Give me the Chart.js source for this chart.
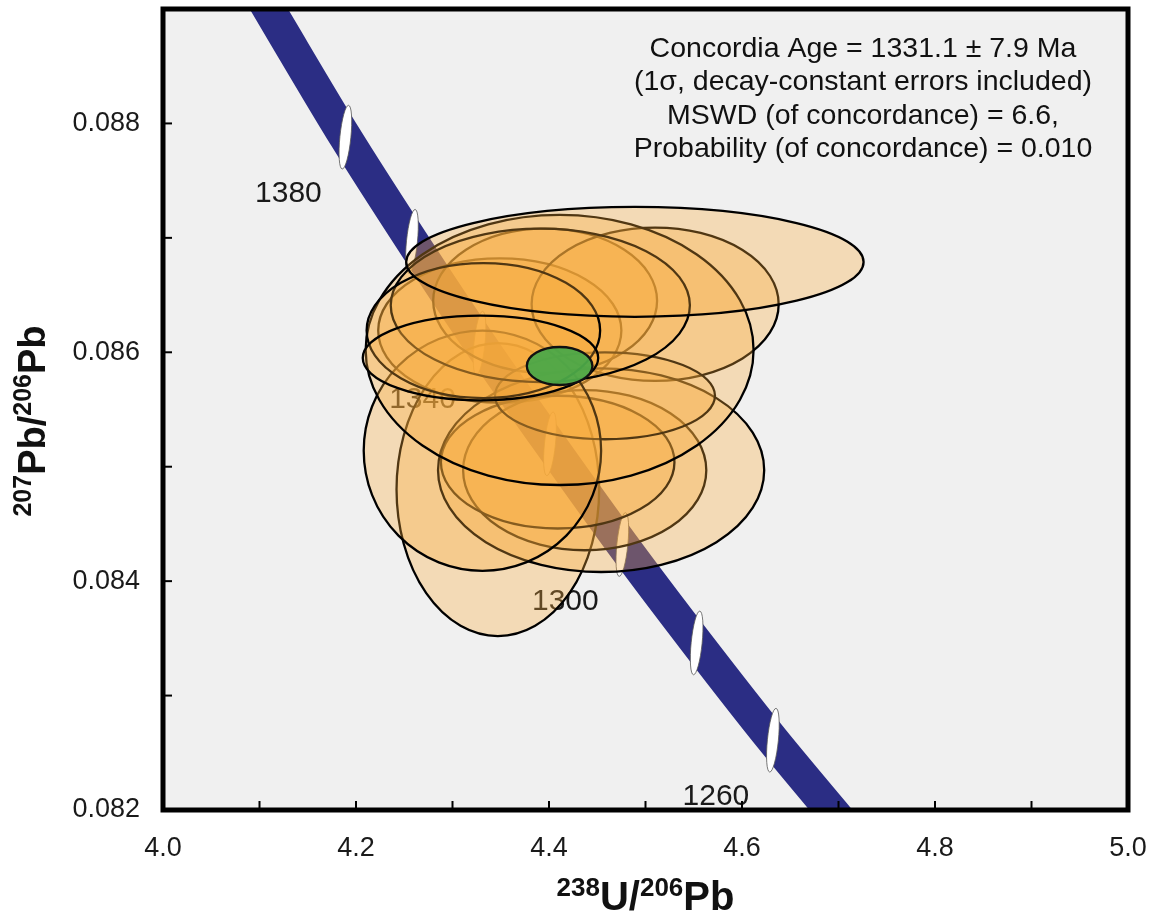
<!DOCTYPE html>
<html>
<head>
<meta charset="utf-8">
<script src="https://cdn.jsdelivr.net/npm/chart.js@4.4.1/dist/chart.umd.min.js"></script>
<style>
  html, body { margin: 0; background: #fff; }
  canvas { display: block; }
</style>
</head>
<body>
<canvas id="chart" width="1160" height="918"></canvas>
<script>
// concordia curve (age in Ma)
const concAges = [1240, 1260, 1280, 1300, 1320, 1340, 1360, 1380, 1400, 1420];
const concX = [4.715, 4.632, 4.553, 4.476, 4.401, 4.328, 4.258, 4.189, 4.123, 4.058];
const concY = [0.08177, 0.08261, 0.08346, 0.08432, 0.08520, 0.08608, 0.08697, 0.08788, 0.08881, 0.08974];
const markerAges = [1260, 1280, 1300, 1320, 1340, 1360, 1380];
const labelAges = [1260, 1300, 1340, 1380];

// analysis error ellipses: centre and half axes (drawn in this order)
const ellX  = [4.347, 4.349, 4.396, 4.510, 4.437, 4.409, 4.454, 4.458, 4.331, 4.411, 4.391, 4.332, 4.489, 4.329];
const ellY  = [0.08480, 0.08619, 0.08645, 0.08642, 0.08497, 0.08504, 0.08497, 0.08562, 0.08514, 0.08602, 0.08641, 0.08619, 0.08679, 0.08595];
const ellSx = [0.105, 0.126, 0.116, 0.128, 0.126, 0.121, 0.169, 0.114, 0.123, 0.201, 0.155, 0.121, 0.237, 0.122];
const ellSy = [0.00128, 0.00063, 0.00063, 0.00067, 0.00070, 0.00058, 0.00089, 0.00038, 0.00105, 0.00118, 0.00067, 0.00059, 0.00048, 0.00037];

// concordia age ellipse
const ageX = 4.411, ageY = 0.08588, ageSx = 0.034, ageSy = 0.000166;

// axis labels
const xLabels = [4.0, 4.2, 4.4, 4.6, 4.8, 5.0];
const yLabels = [0.082, 0.084, 0.086, 0.088];

const infoLines = [
  "Concordia Age = 1331.1 \u00b1 7.9 Ma",
  "(1\u03c3, decay-constant errors included)",
  "MSWD (of concordance) = 6.6,",
  "Probability (of concordance) = 0.010"
];

const FONT = "'Liberation Sans', Arial, sans-serif";

function ellipse(ctx, xs, ys, cx, cy, sx, sy) {
  const px = xs.getPixelForValue(cx), py = ys.getPixelForValue(cy);
  const rx = Math.abs(xs.getPixelForValue(cx + sx) - px);
  const ry = Math.abs(ys.getPixelForValue(cy + sy) - py);
  ctx.beginPath();
  ctx.ellipse(px, py, rx, ry, 0, 0, Math.PI * 2);
}

// text with superscript isotope numbers, centred on (0,0) baseline
function supText(ctx, parts, size, supSize) {
  let w = 0;
  parts.forEach(p => {
    ctx.font = "bold " + (p[1] ? supSize : size) + "px " + FONT;
    w += ctx.measureText(p[0]).width;
  });
  let x = -w / 2;
  ctx.textAlign = "left";
  ctx.textBaseline = "alphabetic";
  parts.forEach(p => {
    ctx.font = "bold " + (p[1] ? supSize : size) + "px " + FONT;
    ctx.fillText(p[0], x, p[1] ? -size * 0.36 : 0);
    x += ctx.measureText(p[0]).width;
  });
}

const concordiaPlugin = {
  id: "concordia",
  beforeDraw(chart) {
    const { ctx, chartArea: a } = chart;
    ctx.save();
    ctx.fillStyle = "#fff";
    ctx.fillRect(0, 0, chart.width, chart.height);
    ctx.fillStyle = "#f0f0f0";
    ctx.fillRect(a.left, a.top, a.right - a.left, a.bottom - a.top);
    ctx.restore();
  },
  afterDatasetsDraw(chart) {
    const { ctx, chartArea: a } = chart;
    const xs = chart.scales.x, ys = chart.scales.y;
    ctx.save();

    // age markers on the concordia band
    markerAges.forEach(age => {
      const i = concAges.indexOf(age);
      const px = xs.getPixelForValue(concX[i]), py = ys.getPixelForValue(concY[i]);
      ctx.beginPath();
      ctx.ellipse(px, py, 5.5, 32, 0.1, 0, Math.PI * 2);
      ctx.fillStyle = "#fff";
      ctx.fill();
      ctx.lineWidth = 0.8;
      ctx.strokeStyle = "#555";
      ctx.stroke();
    });

    // age labels
    ctx.font = "30px " + FONT;
    ctx.fillStyle = "#1a1a1a";
    ctx.textAlign = "center";
    ctx.textBaseline = "middle";
    labelAges.forEach(age => {
      const i = concAges.indexOf(age);
      const px = xs.getPixelForValue(concX[i]), py = ys.getPixelForValue(concY[i]);
      ctx.fillText(String(age), px - 57, py + 57);
    });

    // data ellipses
    for (let i = 0; i < ellX.length; i++) {
      ellipse(ctx, xs, ys, ellX[i], ellY[i], ellSx[i], ellSy[i]);
      ctx.fillStyle = "rgba(250,172,60,0.32)";
      ctx.fill();
      ctx.lineWidth = 2.3;
      ctx.strokeStyle = "#000";
      ctx.stroke();
    }

    // concordia age ellipse
    ellipse(ctx, xs, ys, ageX, ageY, ageSx, ageSy);
    ctx.fillStyle = "rgba(72,168,72,0.93)";
    ctx.fill();
    ctx.lineWidth = 2.3;
    ctx.strokeStyle = "#111";
    ctx.stroke();

    // inward tick marks
    ctx.strokeStyle = "#000";
    ctx.lineWidth = 2;
    xs.ticks.forEach(t => {
      const px = xs.getPixelForValue(t.value);
      ctx.beginPath();
      ctx.moveTo(px, a.bottom);
      ctx.lineTo(px, a.bottom - 9);
      ctx.stroke();
    });
    ys.ticks.forEach(t => {
      const py = ys.getPixelForValue(t.value);
      ctx.beginPath();
      ctx.moveTo(a.left, py);
      ctx.lineTo(a.left + 9, py);
      ctx.stroke();
    });

    // frame
    ctx.lineWidth = 5;
    ctx.strokeRect(a.left, a.top, a.right - a.left, a.bottom - a.top);

    // result box text
    ctx.font = "28.5px " + FONT;
    ctx.fillStyle = "#111";
    ctx.textAlign = "center";
    ctx.textBaseline = "middle";
    infoLines.forEach((line, i) => {
      ctx.fillText(line, a.right - 265, a.top + 40 + i * 33.5);
    });

    // axis titles
    ctx.fillStyle = "#111";
    ctx.save();
    ctx.translate((a.left + a.right) / 2, a.bottom + 100);
    supText(ctx, [["238", true], ["U/", false], ["206", true], ["Pb", false]], 40, 26);
    ctx.restore();
    ctx.save();
    ctx.translate(45, a.top + 412);
    ctx.rotate(-Math.PI / 2);
    supText(ctx, [["207", true], ["Pb/", false], ["206", true], ["Pb", false]], 38, 25);
    ctx.restore();

    ctx.restore();
  }
};

new Chart(document.getElementById("chart"), {
  type: "line",
  data: {
    datasets: [{
      label: "Concordia",
      data: concX.map((x, i) => ({ x: x, y: concY[i] })),
      borderColor: "#2b2d84",
      borderWidth: 33,
      borderCapStyle: "butt",
      borderJoinStyle: "round",
      pointRadius: 0,
      tension: 0.3,
      fill: false,
      clip: 0
    }]
  },
  options: {
    responsive: false,
    animation: false,
    devicePixelRatio: 1,
    layout: { padding: { left: 0, top: 9, right: 32, bottom: 0 } },
    plugins: { legend: { display: false }, tooltip: { enabled: false } },
    scales: {
      x: {
        type: "linear",
        min: 4, max: 5,
        grid: { display: false, drawTicks: false },
        border: { display: false },
        ticks: {
          stepSize: 0.1,
          autoSkip: false,
          maxRotation: 0,
          padding: 22,
          color: "#1a1a1a",
          font: { family: FONT, size: 27 },
          callback: v => xLabels.some(l => Math.abs(l - v) < 1e-6) ? Number(v).toFixed(1) : ""
        },
        afterFit: s => { s.height = 108; s.paddingLeft = 0; s.paddingRight = 0; }
      },
      y: {
        type: "linear",
        min: 0.082, max: 0.089,
        grid: { display: false, drawTicks: false },
        border: { display: false },
        ticks: {
          stepSize: 0.001,
          autoSkip: false,
          padding: 23,
          color: "#1a1a1a",
          font: { family: FONT, size: 27 },
          callback: v => yLabels.some(l => Math.abs(l - v) < 1e-7) ? Number(v).toFixed(3) : ""
        },
        afterFit: s => { s.width = 163; s.paddingTop = 0; s.paddingBottom = 0; }
      }
    }
  },
  plugins: [concordiaPlugin]
});
</script>
</body>
</html>
